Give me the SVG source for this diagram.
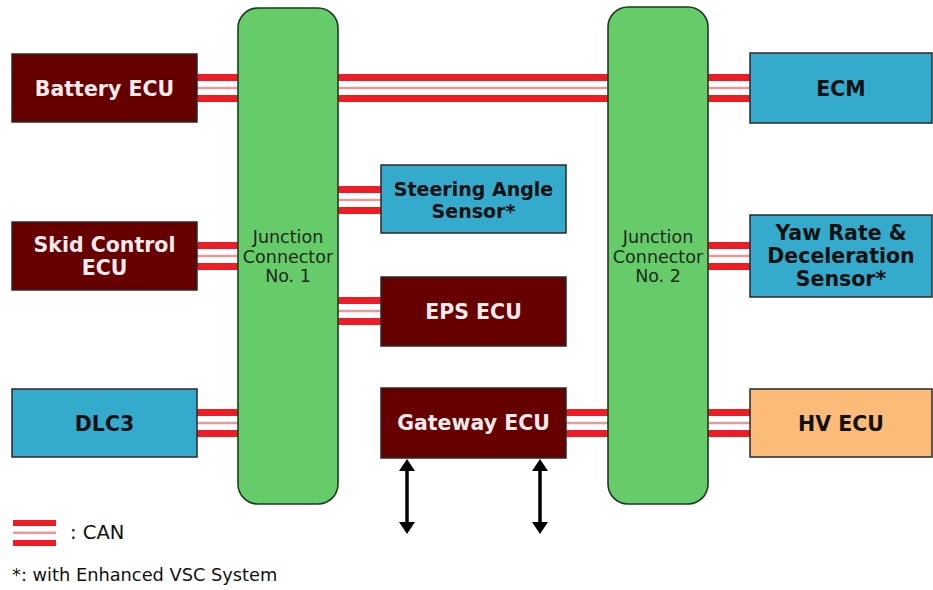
<svg xmlns="http://www.w3.org/2000/svg" width="933" height="590" viewBox="0 0 933 590">
<style>
.bg{fill:#ffffff}
.box{stroke:#2a2a2a;stroke-width:1.5}
.ecu{fill:#660000}
.sen{fill:#34aacd}
.hv{fill:#fdbb7a}
.jc{fill:#66cc6a;stroke:#1e3a1e;stroke-width:1.6}
.lw{font-family:"DejaVu Sans",Verdana,sans-serif;font-weight:bold;font-size:20.5px;fill:#f6eaea;text-anchor:middle}
.lb{font-family:"DejaVu Sans",Verdana,sans-serif;font-weight:bold;font-size:20.5px;fill:#111111;text-anchor:middle}
.jt{font-family:"DejaVu Sans",Verdana,sans-serif;font-size:17.5px;fill:#1a2a1a;text-anchor:middle}
.leg{font-family:"DejaVu Sans",Verdana,sans-serif;fill:#111111}
.r{stroke:#ee1c24;stroke-width:7;fill:none}
.p{stroke:#e79a9a;stroke-width:2.5;fill:none}
.arr{stroke:#000000;stroke-width:3.5;fill:none}
</style>
<defs>
<marker id="ah" viewBox="0 0 12 16" refX="2" refY="8" markerWidth="12" markerHeight="16" markerUnits="userSpaceOnUse" orient="auto-start-reverse">
<path d="M0 0 L12 8 L0 16 Z" fill="#000000"/>
</marker>
</defs>
<rect class="bg" x="0" y="0" width="933" height="590"/>

<g id="connectors">
<g id="can-battery"><path class="r" d="M197 77.5H238M197 98.5H238"/><path class="p" d="M197 88H238"/></g>
<g id="can-j1-j2"><path class="r" d="M338 77.5H608M338 98.5H608"/><path class="p" d="M338 88H608"/></g>
<g id="can-ecm"><path class="r" d="M708 77.5H750M708 98.5H750"/><path class="p" d="M708 88H750"/></g>
<g id="can-steering"><path class="r" d="M338 189.5H381M338 210.5H381"/><path class="p" d="M338 200H381"/></g>
<g id="can-skid"><path class="r" d="M197 245.5H238M197 266.5H238"/><path class="p" d="M197 256H238"/></g>
<g id="can-yaw"><path class="r" d="M708 245.5H750M708 266.5H750"/><path class="p" d="M708 256H750"/></g>
<g id="can-eps"><path class="r" d="M338 300.5H381M338 321.5H381"/><path class="p" d="M338 311H381"/></g>
<g id="can-dlc3"><path class="r" d="M197 412.5H238M197 433.5H238"/><path class="p" d="M197 423H238"/></g>
<g id="can-gateway"><path class="r" d="M566 412.5H608M566 433.5H608"/><path class="p" d="M566 423H608"/></g>
<g id="can-hv"><path class="r" d="M708 412.5H750M708 433.5H750"/><path class="p" d="M708 423H750"/></g>
<path class="arr" d="M407 469V524" marker-start="url(#ah)" marker-end="url(#ah)"/>
<path class="arr" d="M540 469V524" marker-start="url(#ah)" marker-end="url(#ah)"/>
</g>

<g id="junction1">
<rect class="jc" x="238" y="8" width="100" height="496" rx="20" ry="20"/>
<text class="jt" x="288" y="243">Junction</text>
<text class="jt" x="288" y="262.5">Connector</text>
<text class="jt" x="288" y="282">No. 1</text>
</g>
<g id="junction2">
<rect class="jc" x="608" y="7" width="100" height="497" rx="20" ry="20"/>
<text class="jt" x="658" y="243">Junction</text>
<text class="jt" x="658" y="262.5">Connector</text>
<text class="jt" x="658" y="282">No. 2</text>
</g>

<g id="battery-ecu">
<rect class="box ecu" x="12" y="54" width="185" height="68"/>
<text class="lw" x="104.5" y="95.5">Battery ECU</text>
</g>
<g id="skid-control-ecu">
<rect class="box ecu" x="12" y="222" width="185" height="68"/>
<text class="lw" x="104.5" y="252">Skid Control</text>
<text class="lw" x="104.5" y="275">ECU</text>
</g>
<g id="dlc3">
<rect class="box sen" x="12" y="389" width="185" height="68"/>
<text class="lb" x="104.5" y="430.5">DLC3</text>
</g>
<g id="steering-angle-sensor">
<rect class="box sen" x="381" y="165" width="185" height="68"/>
<text class="lb" x="473.5" y="196" style="font-size:19px">Steering Angle</text>
<text class="lb" x="473.5" y="218" style="font-size:19px">Sensor*</text>
</g>
<g id="eps-ecu">
<rect class="box ecu" x="381" y="277" width="185" height="69"/>
<text class="lw" x="473.5" y="318.5">EPS ECU</text>
</g>
<g id="gateway-ecu">
<rect class="box ecu" x="381" y="388" width="185" height="70"/>
<text class="lw" x="473.5" y="429.5">Gateway ECU</text>
</g>
<g id="ecm">
<rect class="box sen" x="750" y="53" width="182" height="70"/>
<text class="lb" x="841" y="95.5">ECM</text>
</g>
<g id="yaw-rate-sensor">
<rect class="box sen" x="750" y="215" width="182" height="82"/>
<text class="lb" x="841" y="240">Yaw Rate &amp;</text>
<text class="lb" x="841" y="263">Deceleration</text>
<text class="lb" x="841" y="286">Sensor*</text>
</g>
<g id="hv-ecu">
<rect class="box hv" x="750" y="389" width="182" height="68"/>
<text class="lb" x="841" y="430.5">HV ECU</text>
</g>

<g id="legend">
<rect x="13" y="520" width="43" height="6" fill="#ee1c24"/>
<rect x="13" y="531.5" width="43" height="2.5" fill="#e79a9a"/>
<rect x="13" y="540" width="43" height="6" fill="#ee1c24"/>
<text class="leg" x="70" y="539" style="font-size:19.5px">: CAN</text>
<text class="leg" x="12" y="581" style="font-size:17.8px">*: with Enhanced VSC System</text>
</g>
</svg>
